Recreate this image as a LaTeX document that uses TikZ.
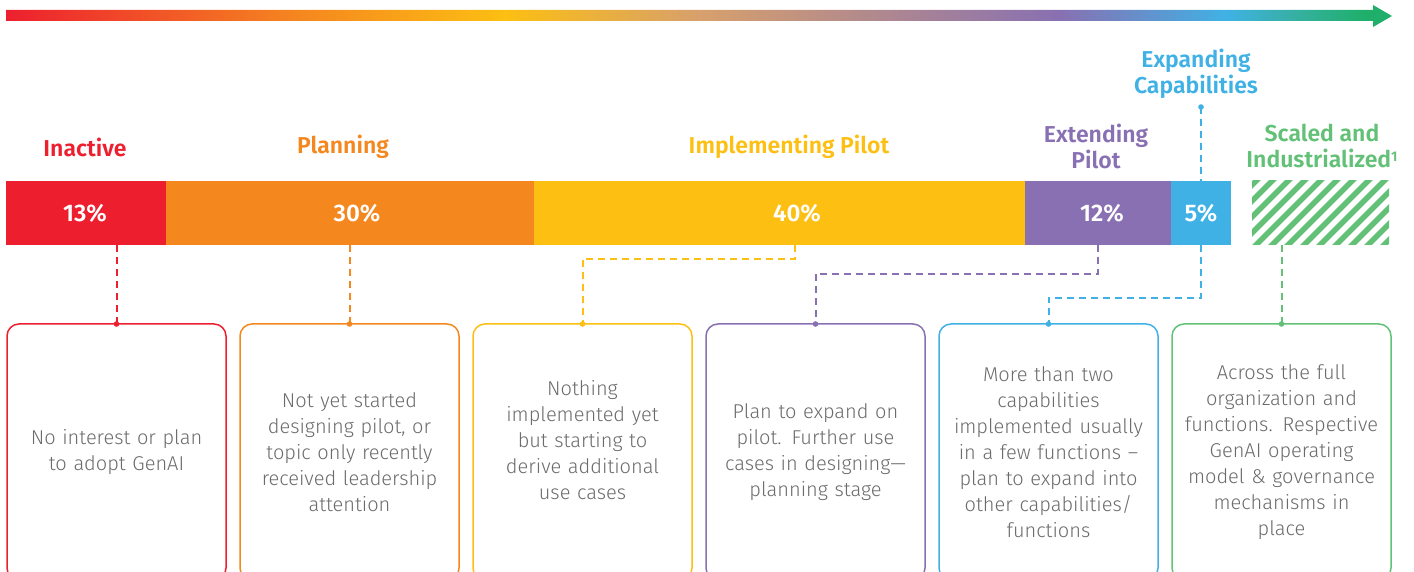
\documentclass[tikz,border=0pt]{standalone}
\usepackage{fontspec}
\setmainfont{Fira Sans}[UprightFont=* Light, BoldFont=* SemiBold]
\usetikzlibrary{positioning}

\definecolor{cRed}{HTML}{ED1F2F}
\definecolor{cOrange}{HTML}{F5871F}
\definecolor{cYellow}{HTML}{FCBF12}
\definecolor{cPurple}{HTML}{8870B2}
\definecolor{cBlue}{HTML}{40B1E5}
\definecolor{cGreen}{HTML}{62C177}
\definecolor{cTan}{HTML}{D7A06C}
\definecolor{cTeal}{HTML}{36B0A2}
\definecolor{cDeep}{HTML}{1FAF6A}
\definecolor{cText}{HTML}{6B6B6B}
\pgfdeclarehorizontalshading{journey}{100bp}{color(0bp)=(cRed); color(25bp)=(cRed); color(35.6bp)=(cOrange); color(43bp)=(cYellow); color(50bp)=(cTan); color(63bp)=(cPurple); color(69bp)=(cBlue); color(71.5bp)=(cTeal); color(74bp)=(cDeep); color(100bp)=(cDeep)}

\begin{document}
\begin{tikzpicture}[x=0.5pt,y=-0.5pt,
  seg/.style={minimum height=32pt,minimum width=#1,inner sep=0pt,outer sep=0pt,anchor=west},
  pct/.style={text=white,font=\bfseries\fontsize{12}{12}\selectfont},
  stage/.style={font=\bfseries\fontsize{11.5}{13}\selectfont,align=center},
  card/.style={draw=#1,line width=0.75pt,rounded corners=6pt,minimum width=109.5pt,minimum height=128pt,inner sep=0pt,outer sep=0pt,text width=100pt,align=center,text=cText,font=\fontsize{10}{13}\selectfont},
  link/.style={draw=#1,dash pattern=on 3.5pt off 2.5pt,line width=1pt},
  dot/.style={fill=#1,circle,inner sep=0pt,minimum size=2.8pt}]
\useasboundingbox (0,0) rectangle (1414,572);
\clip (0,0) rectangle (1414,572);

% journey arrow
\shade[shading=journey] (6,10) -- (1373,10) -- (1373,5) -- (1392,16) -- (1373,27) -- (1373,21) -- (6,21) -- cycle;

% stage names
\node[stage,text=cRed] (tInact) at (85,147) {Inactive};
\node[stage,text=cOrange] (tPlan) at (343,147) {Planning};
\node[stage,text=cYellow] (tPilot) at (789,147) {Implementing Pilot};
\node[stage,text=cPurple] (tExtend) at (1096,146) {Extending\\Pilot};
\node[stage,text=cBlue] (tExpand) at (1196,74) {Expanding\\Capabilities};
\node[stage,text=cGreen] (tScale) at (1322,146) {Scaled and\\Industrialized{\fontsize{7}{7}\selectfont\raisebox{0.8ex}{1}}};

% share bar
\node[seg=80pt,fill=cRed] (seg1) at (6,213) {};
\node[seg=184pt,fill=cOrange,right=0pt of seg1] (seg2) {};
\node[seg=245.5pt,fill=cYellow,right=0pt of seg2] (seg3) {};
\node[seg=73pt,fill=cPurple,right=0pt of seg3] (seg4) {};
\node[seg=30pt,fill=cBlue,right=0pt of seg4] (seg5) {};
\node[seg=68.5pt] (hatch) at (1252,213) {};
\begin{scope}
\clip (hatch.south west) rectangle (hatch.north east);
\foreach \i in {0,...,13}
  \draw[cGreen,line width=2.8pt] (1188+\i*16,249) -- ++(72,-72);
\end{scope}
\node[pct] (p1) at (85,213) {13\%};
\node[pct] (p2) at (357,213) {30\%};
\node[pct] (p3) at (797,213) {40\%};
\node[pct] (p4) at (1102,213) {12\%};
\node[pct] (p5) at (1201,213) {5\%};

% description cards
\node[card=cRed] (box1) at (116.5,452) {No interest or plan\\to adopt GenAI};
\node[card=cOrange,right=7pt of box1] (box2) {Not yet started\\designing pilot, or\\topic only recently\\received leadership\\attention};
\node[card=cYellow,right=7pt of box2] (box3) {Nothing\\implemented yet\\but starting to\\derive additional\\use cases\\[-1pt]\mbox{}};
\node[card=cPurple,right=7pt of box3] (box4) {Plan to expand on\\pilot. Further use\\cases in designing---\\planning stage};
\node[card=cBlue,right=7pt of box4] (box5) {More than two\\capabilities\\implemented usually\\in a few functions --\\plan to expand into\\other capabilities/\\functions};
\node[card=cGreen,right=7pt of box5] (box6) {Across the full\\organization and\\functions. Respective\\GenAI operating\\model \& governance\\mechanisms in\\place};

% connectors
\coordinate (ylwStart) at (795,245);
\coordinate (expTop) at (1201,107);
\draw[link=cRed] (box1.north |- seg1.south) -- (box1.north) node[dot=cRed] {};
\draw[link=cOrange] (box2.north |- seg2.south) -- (box2.north) node[dot=cOrange] {};
\draw[link=cYellow] (ylwStart) -- ++(0,14) -| (box3.north) node[dot=cYellow] {};
\draw[link=cPurple] (seg4.south) -- ++(0,29) -| (box4.north) node[dot=cPurple] {};
\draw[link=cBlue] (expTop) node[dot=cBlue] {} -- (seg5.north);
\draw[link=cBlue] (seg5.south) -- ++(0,53) -| (box5.north) node[dot=cBlue] {};
\draw[link=cGreen] (box6.north |- hatch.south) -- (box6.north) node[dot=cGreen] {};
\end{tikzpicture}
\end{document}
